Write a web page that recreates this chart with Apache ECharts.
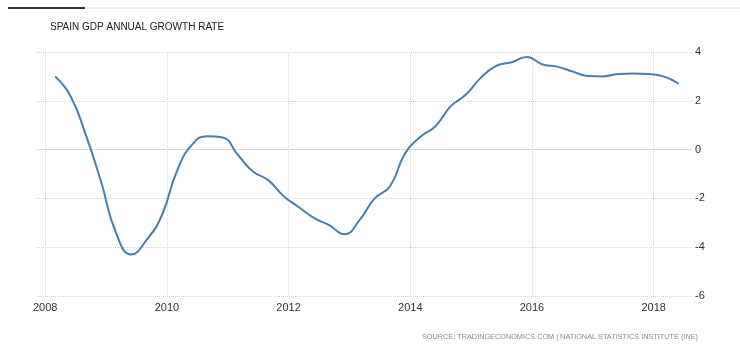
<!DOCTYPE html>
<html>
<head>
<meta charset="utf-8">
<script src="https://cdn.jsdelivr.net/npm/echarts@6/dist/echarts.min.js"></script>
<style>
html,body{margin:0;padding:0;background:#fff;}
#c{width:740px;height:360px;}
</style>
</head>
<body>
<div id="c"></div>
<script>
var title = "SPAIN GDP ANNUAL GROWTH RATE";
var source = "SOURCE: TRADINGECONOMICS.COM | NATIONAL STATISTICS INSTITUTE (INE)";
var dates = ["2008-03","2008-06","2008-09","2008-12",
  "2009-03","2009-06","2009-09","2009-12",
  "2010-03","2010-06","2010-09","2010-12",
  "2011-03","2011-06","2011-09","2011-12",
  "2012-03","2012-06","2012-09","2012-12",
  "2013-03","2013-06","2013-09","2013-12",
  "2014-03","2014-06","2014-09","2014-12",
  "2015-03","2015-06","2015-09","2015-12",
  "2016-03","2016-06","2016-09","2016-12",
  "2017-03","2017-06","2017-09","2017-12",
  "2018-03","2018-06"];
var growth = [3.0,2.2,0.6,-1.3,
  -3.4,-4.3,-3.7,-2.7,
  -0.9,0.2,0.55,0.5,
  -0.2,-0.9,-1.25,-1.9,
  -2.35,-2.8,-3.1,-3.47,
  -2.9,-2.0,-1.5,-0.15,
  0.52,0.96,1.78,2.26,
  2.95,3.43,3.58,3.8,
  3.5,3.4,3.2,3.02,
  3.0,3.1,3.12,3.1,
  3.0,2.7];
var xTickYears = [2008,2010,2012,2014,2016,2018];
var yTicks = {min:-6, max:4, interval:2};
var xRange = {min:"2007-11-13", max:"2018-08-19"};

var chart = echarts.init(document.getElementById('c'), null, {renderer:'canvas'});
var data = dates.map(function(d,i){return [d, growth[i]];});
var DAY = 86400000;
var gridStyle = {color:'#d4d4d4', type:'dotted', width:1};
chart.setOption({
  animation:false,
  backgroundColor:'#fff',
  textStyle:{fontFamily:'Liberation Sans'},
  graphic:[
    {type:'line', shape:{x1:85,y1:8,x2:740,y2:8}, style:{stroke:'#dcdcdc', lineWidth:1}},
    {type:'line', shape:{x1:8,y1:8,x2:85,y2:8}, style:{stroke:'#333', lineWidth:2}},
    {type:'text', x:50, y:22, style:{text:title, fill:'#222', font:'10px "Liberation Sans"'}},
    {type:'text', x:422, y:333, style:{text:source, fill:'#8a8a8a', font:'7.3px "Liberation Sans"'}}
  ],
  grid:{left:37, right:48, top:52, bottom:64},
  xAxis:{
    type:'time',
    min:xRange.min, max:xRange.max,
    minInterval:365*DAY, maxInterval:366*DAY,
    axisLine:{show:true, lineStyle:{color:'#ddd', width:1}},
    axisTick:{show:false},
    axisLabel:{color:'#333', fontSize:11, margin:6, showMinLabel:false, showMaxLabel:false,
      formatter:function(v){
        var d = new Date(v);
        var y = d.getFullYear();
        return (d.getMonth()===0 && d.getDate()===1 && xTickYears.indexOf(y)>=0) ? String(y) : '';
      }},
    splitLine:{show:false}
  },
  yAxis:{
    type:'value', position:'right',
    min:yTicks.min, max:yTicks.max, interval:yTicks.interval,
    axisLine:{show:false}, axisTick:{show:false},
    axisLabel:{color:'#333', fontSize:11, margin:3},
    splitLine:{show:true, lineStyle:gridStyle}
  },
  series:[{
    type:'line', data:data, smooth:0.5, showSymbol:false,
    lineStyle:{color:'#4a7db0', width:2},
    itemStyle:{color:'#4a7db0'},
    z:3,
    markLine:{
      silent:true, symbol:'none', label:{show:false},
      lineStyle:gridStyle,
      data:xTickYears.map(function(y){return {xAxis: y + '-01-01'};}),
      z:1
    }
  }]
});
</script>
</body>
</html>
